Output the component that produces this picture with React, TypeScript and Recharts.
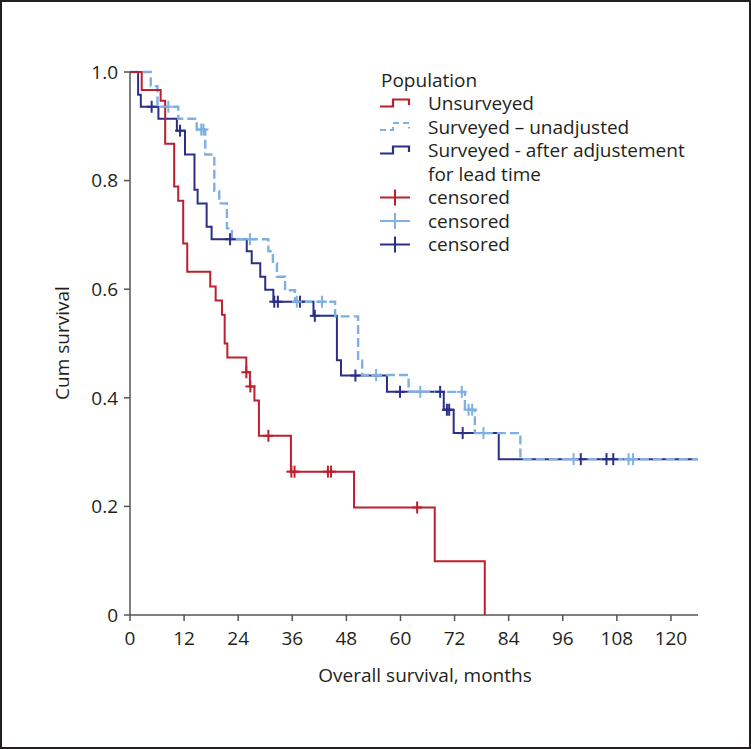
import { ComposedChart, Line, Scatter, XAxis, YAxis } from 'recharts';

// Kaplan-Meier steps (months, cumulative survival)
const redT = [0, 2.6, 6.8, 7.8, 9.8, 10.7, 11.8, 12.7, 17.8, 19.0, 20.4, 21.0, 21.6, 25.8, 26.6, 27.6, 28.6, 35.7, 49.7, 67.6, 78.7];
const redS = [1, 0.967, 0.947, 0.868, 0.789, 0.763, 0.684, 0.632, 0.605, 0.579, 0.553, 0.5, 0.474, 0.447, 0.421, 0.395, 0.33, 0.264, 0.198, 0.099, 0];

const lightT = [0, 4.6, 6.1, 10.7, 14.8, 16.7, 18.7, 19.8, 21.5, 22.6, 30.7, 31.7, 32.6, 34.4, 36.6, 45.5, 50.6, 51.5, 61.8, 74.3, 76.5, 86.6, 126];
const lightS = [1, 0.974, 0.936, 0.914, 0.894, 0.848, 0.781, 0.758, 0.712, 0.692, 0.67, 0.648, 0.623, 0.598, 0.577, 0.55, 0.469, 0.442, 0.411, 0.378, 0.335, 0.287, 0.287];

const darkT = [0, 1.8, 2.4, 6.3, 10.4, 12.2, 14.3, 15.0, 17.0, 18.1, 25.9, 27.0, 28.9, 30.0, 31.8, 40.7, 45.9, 46.8, 57.0, 69.6, 71.8, 81.8, 126];
const darkS = [1, 0.958, 0.936, 0.914, 0.892, 0.848, 0.783, 0.758, 0.715, 0.692, 0.67, 0.648, 0.623, 0.599, 0.577, 0.551, 0.469, 0.441, 0.411, 0.378, 0.335, 0.287, 0.287];

// censored observations
const redCensT = [25.8, 26.7, 30.7, 35.8, 36.5, 43.9, 44.6, 63.7];
const redCensS = [0.447, 0.421, 0.33, 0.264, 0.264, 0.264, 0.264, 0.198];
const lightCensT = [8.5, 15.8, 16.3, 26.6, 37.0, 42.6, 54.6, 64.4, 73.6, 75.1, 75.9, 78.4, 98.4, 110.6, 111.6];
const lightCensS = [0.936, 0.894, 0.894, 0.692, 0.577, 0.577, 0.442, 0.411, 0.411, 0.378, 0.378, 0.335, 0.287, 0.287, 0.287];
const darkCensT = [4.8, 11.1, 22.2, 32.0, 32.8, 37.7, 41.0, 50.0, 59.9, 68.8, 70.3, 70.8, 73.8, 100.0, 105.7, 107.2];
const darkCensS = [0.936, 0.892, 0.692, 0.577, 0.577, 0.577, 0.551, 0.441, 0.411, 0.411, 0.378, 0.378, 0.335, 0.287, 0.287, 0.287];

const xTicks = [0, 12, 24, 36, 48, 60, 72, 84, 96, 108, 120];
const yTicks = [0, 0.2, 0.4, 0.6, 0.8, 1.0];

const RED = '#be1e2d';
const LIGHT = '#7eb0e3';
const DARK = '#2b2f86';
const INK = '#231f20';
const FONT = '"Open Sans", sans-serif';

const zip = (t: number[], s: number[]) => t.map((v, i) => ({ t: v, s: s[i] }));

const censorShape = (color: string) => (props: any) => {
  const { cx, cy } = props;
  return (
    <g>
      <line x1={cx - 5} x2={cx + 5} y1={cy} y2={cy} stroke={color} strokeWidth={2} />
      <line x1={cx} x2={cx} y1={cy - 6} y2={cy + 6} stroke={color} strokeWidth={2} />
    </g>
  );
};

function LegendBox() {
  const rows = [110, 133.5, 157, 180.5, 204, 227.5, 251];
  const step = (b: number, color: string, dash?: string) => (
    <path
      d={`M380,${b - 3.5} H393 V${b - 10.5} H409 V${b - 5}`}
      fill="none"
      stroke={color}
      strokeWidth={2.2}
      strokeDasharray={dash}
    />
  );
  const cross = (b: number, color: string) => (
    <g stroke={color} strokeWidth={2}>
      <line x1={380} x2={410} y1={b - 6.5} y2={b - 6.5} />
      <line x1={395} x2={395} y1={b - 14.5} y2={b + 1.5} />
    </g>
  );
  return (
    <g fontFamily={FONT} fontSize={19} fill={INK}>
      <text x={381} y={87}>Population</text>
      {step(rows[0], RED)}
      <text x={428} y={rows[0]}>Unsurveyed</text>
      {step(rows[1], LIGHT, '6 4')}
      <text x={428} y={rows[1]}>Surveyed – unadjusted</text>
      {step(rows[2], DARK)}
      <text x={428} y={rows[2]}>Surveyed - after adjustement</text>
      <text x={428} y={rows[3]}>for lead time</text>
      {cross(rows[4], RED)}
      <text x={428} y={rows[4]}>censored</text>
      {cross(rows[5], LIGHT)}
      <text x={428} y={rows[5]}>censored</text>
      {cross(rows[6], DARK)}
      <text x={428} y={rows[6]}>censored</text>
    </g>
  );
}

export default function App() {
  const tickStyle = { fontSize: 19, fill: INK, fontFamily: FONT };
  return (
    <div style={{ position: 'absolute', left: 0, top: 0, width: 751, height: 749, background: '#fff' }}>
      <div style={{ position: 'absolute', left: 0, top: 0 }}>
        <ComposedChart width={751} height={749} margin={{ top: 72, right: 53, bottom: 94, left: 70 }}>
          <XAxis
            dataKey="t"
            type="number"
            domain={[0, 126]}
            ticks={xTicks}
            allowDataOverflow
            height={40}
            tick={tickStyle}
            tickSize={6}
            tickMargin={11}
            axisLine={{ stroke: '#555', strokeWidth: 1.5 }}
            tickLine={{ stroke: '#555', strokeWidth: 1.5 }}
          />
          <YAxis
            dataKey="s"
            type="number"
            domain={[0, 1]}
            ticks={yTicks}
            width={60}
            tick={tickStyle}
            tickSize={6}
            tickMargin={6}
            tickFormatter={(v: number) => (v === 0 ? '0' : v.toFixed(1))}
            axisLine={{ stroke: '#555', strokeWidth: 1.5 }}
            tickLine={{ stroke: '#555', strokeWidth: 1.5 }}
          />
          <Line data={zip(darkT, darkS)} dataKey="s" type="stepAfter" stroke={DARK} strokeWidth={2} dot={false} activeDot={false} isAnimationActive={false} />
          <Line data={zip(lightT, lightS)} dataKey="s" type="stepAfter" stroke={LIGHT} strokeWidth={2.4} strokeDasharray="9 4" dot={false} activeDot={false} isAnimationActive={false} />
          <Line data={zip(redT, redS)} dataKey="s" type="stepAfter" stroke={RED} strokeWidth={2} dot={false} activeDot={false} isAnimationActive={false} />
          <Scatter data={zip(darkCensT, darkCensS)} dataKey="s" shape={censorShape(DARK)} isAnimationActive={false} />
          <Scatter data={zip(lightCensT, lightCensS)} dataKey="s" shape={censorShape(LIGHT)} isAnimationActive={false} />
          <Scatter data={zip(redCensT, redCensS)} dataKey="s" shape={censorShape(RED)} isAnimationActive={false} />
        </ComposedChart>
      </div>
      <svg width={751} height={749} style={{ position: 'absolute', left: 0, top: 0, pointerEvents: 'none' }}>
        <rect x={1} y={1} width={749} height={747} fill="none" stroke={INK} strokeWidth={2} />
        <text x={425} y={682} textAnchor="middle" fontFamily={FONT} fontSize={19} fill={INK}>
          Overall survival, months
        </text>
        <text x={0} y={0} transform="translate(69,343) rotate(-90)" textAnchor="middle" fontFamily={FONT} fontSize={19} fill={INK}>
          Cum survival
        </text>
        <LegendBox />
      </svg>
    </div>
  );
}
